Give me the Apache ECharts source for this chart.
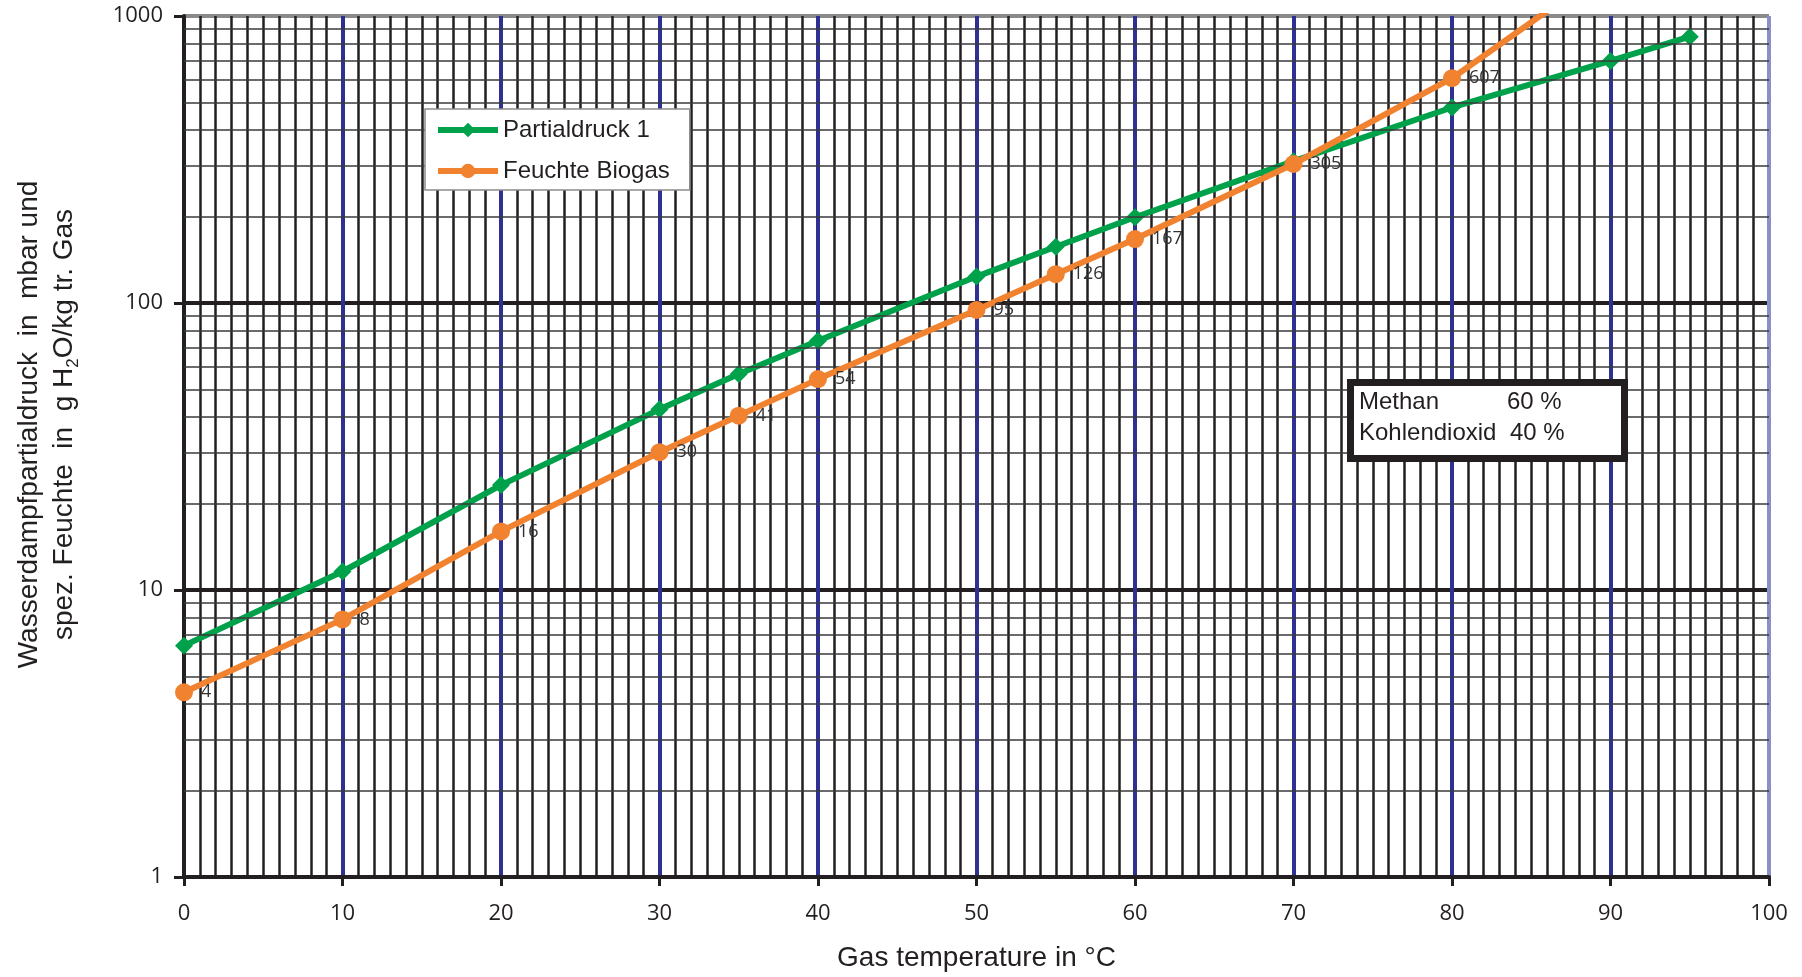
<!DOCTYPE html>
<html>
<head>
<meta charset="utf-8">
<script src="https://cdn.jsdelivr.net/npm/echarts@6/dist/echarts.min.js"></script>
<style>
html,body{margin:0;padding:0;background:#fff;}
#chart{width:1802px;height:977px;}
</style>
</head>
<body>
<div id="chart"></div>
<script>
// ---- data ----
const tempsPartial = [0, 10, 20, 30, 35, 40, 50, 55, 60, 70, 80, 90, 95];
const partialdruck = [6.4, 11.6, 23.2, 42.6, 56.6, 73.9, 123.6, 157, 199, 312, 480, 697, 847];
const tempsBiogas = [0, 10, 20, 30, 35, 40, 50, 55, 60, 70, 80, 90];
const feuchteBiogas = [4.4, 7.9, 16, 30.2, 40.5, 54.3, 94.6, 126, 167, 305, 607, 1490];
const minorGridValues = [2,3,4,5,6,7,8,9,20,30,40,50,60,70,80,90,200,300,400,500,600,700,800,900];
const xTicks = [0,10,20,30,40,50,60,70,80,90,100];
const yTicks = [1,10,100,1000];
const seriesNames = ['Partialdruck 1', 'Feuchte Biogas'];
const xTitle = 'Gas temperature in °C';
const boxLines = [['Methan', '60 %'], ['Kohlendioxid', '40 %']];

const GREEN = '#00A14B', ORANGE = '#F1822F', BLUE = '#2E3192', INK = '#231F20';
const chart = echarts.init(document.getElementById('chart'));

const boxZ = 100;
const option = {
  animation: false,
  backgroundColor: '#fff',
  grid: { left: 184, top: 16, right: 33, bottom: 100, containLabel: false },
  legend: {
    data: seriesNames,
    orient: 'vertical',
    left: 425, top: 109,
    padding: [7, 20, 5, 10],
    itemWidth: 60, itemHeight: 18, itemGap: 13,
    backgroundColor: '#fff',
    borderColor: '#8c8c8c', borderWidth: 1.5,
    lineStyle: { width: 6 },
    textStyle: { fontFamily: 'Liberation Sans', fontSize: 24, color: INK, lineHeight: 28 },
    z: 10
  },
  xAxis: {
    type: 'value', min: 0, max: 100, interval: 10,
    name: xTitle, nameLocation: 'middle', nameGap: 67,
    nameTextStyle: { fontFamily: 'Liberation Sans', fontSize: 28, color: INK },
    axisLine: { show: true, onZero: false, lineStyle: { color: INK, width: 4 } },
    axisTick: { show: true, length: 9, lineStyle: { color: INK, width: 3 } },
    axisLabel: { margin: 26, fontFamily: 'Open Sans', fontSize: 22, color: INK },
    splitLine: { show: true, lineStyle: { color: [INK, BLUE, BLUE, BLUE, BLUE, BLUE, BLUE, BLUE, BLUE, BLUE, '#8A90C8'], width: 4 } },
    minorTick: { show: false, splitNumber: 10 },
    minorSplitLine: { show: true, lineStyle: { color: INK, width: 2.5 } },
    z: 1
  },
  yAxis: {
    type: 'log', logBase: 10, min: 1, max: 1000,
    name: '{a|Wasserdampfpartialdruck  in  mbar und}\n{a|spez. Feuchte  in  g H}{s|2}{a|O/kg tr. Gas}',
    nameLocation: 'middle', nameGap: 102,
    nameTextStyle: {
      fontFamily: 'Liberation Sans', fontSize: 28, color: INK, lineHeight: 35,
      padding: [0, 0, 0, 44],
      rich: {
        a: { fontFamily: 'Liberation Sans', fontSize: 28, color: INK, lineHeight: 35 },
        s: { fontFamily: 'Liberation Sans', fontSize: 17, color: INK, lineHeight: 35, verticalAlign: 'bottom' }
      }
    },
    axisLine: { show: true, lineStyle: { color: INK, width: 4 } },
    axisTick: { show: true, length: 10, lineStyle: { color: INK, width: 3 } },
    axisLabel: { margin: 21, fontFamily: 'Open Sans', fontSize: 22, color: INK, formatter: v => String(v) },
    splitLine: { show: true, lineStyle: { color: [INK, INK, INK, '#8a8a8a'], width: 4 } },
    z: 1
  },
  graphic: [
    { type: 'rect', z: boxZ, shape: { x: 1350.5, y: 382.5, width: 274, height: 76 },
      style: { fill: '#fff', stroke: INK, lineWidth: 7 } },
    { type: 'text', z: boxZ + 1, x: 1359, y: 402, style: { text: boxLines[0][0], font: '24px "Liberation Sans"', fill: INK, verticalAlign: 'middle' } },
    { type: 'text', z: boxZ + 1, x: 1507, y: 402, style: { text: boxLines[0][1], font: '24px "Liberation Sans"', fill: INK, verticalAlign: 'middle' } },
    { type: 'text', z: boxZ + 1, x: 1359, y: 433, style: { text: boxLines[1][0], font: '24px "Liberation Sans"', fill: INK, verticalAlign: 'middle' } },
    { type: 'text', z: boxZ + 1, x: 1510, y: 433, style: { text: boxLines[1][1], font: '24px "Liberation Sans"', fill: INK, verticalAlign: 'middle' } }
  ],
  series: [
    {
      name: 'minorGrid', type: 'line', data: [], z: 1, silent: true,
      markLine: {
        silent: true, symbol: ['none', 'none'], animation: false,
        label: { show: false },
        lineStyle: { color: '#3a3a3a', width: 1.5, type: 'solid' },
        data: minorGridValues.map(v => ({ yAxis: v }))
      }
    },
    {
      name: seriesNames[0], type: 'line', z: 4,
      data: tempsPartial.map((t, i) => [t, partialdruck[i]]),
      symbol: 'diamond', symbolSize: 18,
      lineStyle: { color: GREEN, width: 6 },
      itemStyle: { color: GREEN },
      clip: true
    },
    {
      name: seriesNames[1], type: 'line', z: 5,
      data: tempsBiogas.map((t, i) => [t, feuchteBiogas[i]]),
      symbol: 'circle', symbolSize: 18,
      lineStyle: { color: ORANGE, width: 6 },
      itemStyle: { color: ORANGE },
      clip: true,
      label: {
        show: true, position: 'right', distance: 8,
        fontFamily: 'Open Sans', fontSize: 18, color: '#333',
        formatter: p => (p.value[1] < 1000 ? String(Math.round(p.value[1])) : '')
      }
    }
  ]
};
chart.setOption(option);
</script>
</body>
</html>
